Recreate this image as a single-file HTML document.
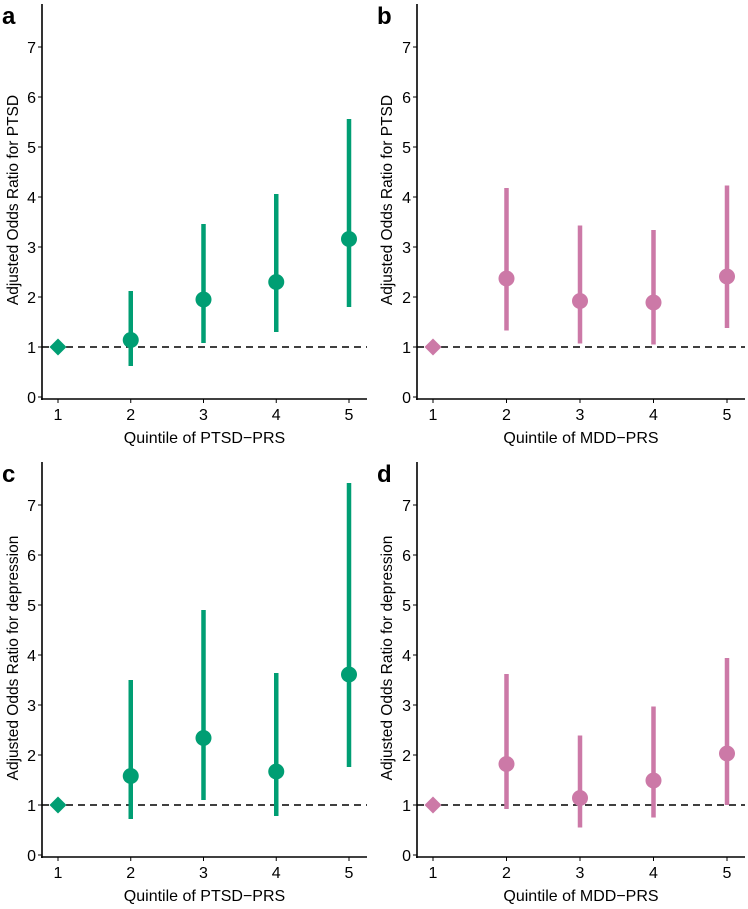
<!DOCTYPE html>
<html><head><meta charset="utf-8"><style>
body{margin:0;background:#fff}
svg text{font-family:"Liberation Sans",Arial,sans-serif}
</style></head><body>
<svg id="chart" width="748" height="904" viewBox="0 0 748 904" xmlns="http://www.w3.org/2000/svg"></svg>
<script>
const quintiles=[1,2,3,4,5];
const yTicks=[0,1,2,3,4,5,6,7];
const aEst=[1,1.14,1.95,2.30,3.16], aLo=[1,0.62,1.08,1.30,1.80], aHi=[1,2.12,3.46,4.06,5.56];
const bEst=[1,2.37,1.92,1.89,2.41], bLo=[1,1.33,1.07,1.05,1.38], bHi=[1,4.18,3.43,3.34,4.23];
const cEst=[1,1.58,2.34,1.67,3.61], cLo=[1,0.72,1.10,0.78,1.76], cHi=[1,3.50,4.90,3.64,7.44];
const dEst=[1,1.82,1.14,1.49,2.03], dLo=[1,0.92,0.55,0.75,1.00], dHi=[1,3.62,2.39,2.97,3.94];
const NS="http://www.w3.org/2000/svg", svg=document.getElementById('chart');
function mk(tag,attrs,parent){const e=document.createElementNS(NS,tag);for(const k in attrs)e.setAttribute(k,attrs[k]);(parent||svg).appendChild(e);return e;}
const panels=[
 {id:'a',ax:42,ay:0,right:367,est:aEst,lo:aLo,hi:aHi,col:'#009E73',xt:'Quintile of PTSD\u2212PRS',yt:'Adjusted Odds Ratio for PTSD'},
 {id:'b',ax:417,ay:0,right:745,est:bEst,lo:bLo,hi:bHi,col:'#CC79A7',xt:'Quintile of MDD\u2212PRS',yt:'Adjusted Odds Ratio for PTSD'},
 {id:'c',ax:42,ay:458,right:367,est:cEst,lo:cLo,hi:cHi,col:'#009E73',xt:'Quintile of PTSD\u2212PRS',yt:'Adjusted Odds Ratio for depression'},
 {id:'d',ax:417,ay:458,right:745,est:dEst,lo:dLo,hi:dHi,col:'#CC79A7',xt:'Quintile of MDD\u2212PRS',yt:'Adjusted Odds Ratio for depression'}];
panels.forEach(p=>{
 const g=mk('g',{});
 
 
 const y=v=>p.ay+397-v*50;
 const step=(p.right-p.ax-34)/4;
 const x=q=>p.ax+16+(q-1)*step;
 const lab=mk('text',{x:p.ax-40,y:p.ay+24,'font-size':24,'font-weight':'bold'},g);lab.textContent=p.id;
 
 
 mk('line',{x1:p.ax,y1:p.ay+4,x2:p.ax,y2:p.ay+400,stroke:'#000','stroke-width':1.6},g);
 mk('line',{x1:p.ax-1,y1:p.ay+399,x2:p.right,y2:p.ay+399,stroke:'#000','stroke-width':1.6},g);
 yTicks.forEach(t=>{
  mk('line',{x1:p.ax-4,y1:y(t),x2:p.ax,y2:y(t),stroke:'#000','stroke-width':1},g);
  const tx=mk('text',{x:p.ax-6,y:y(t)+6,'font-size':16,'text-anchor':'end'},g);tx.textContent=t;
  
  
 });
 quintiles.forEach(q=>{
  mk('line',{x1:x(q),y1:p.ay+399,x2:x(q),y2:p.ay+403,stroke:'#000','stroke-width':1},g);
  const tx=mk('text',{x:x(q),y:p.ay+420,'font-size':16,'text-anchor':'middle'},g);tx.textContent=q;
  
  
 });
 const xt=mk('text',{x:(p.ax+p.right)/2,y:p.ay+443,'font-size':16,'text-anchor':'middle'},g);xt.textContent=p.xt;
 
 
 const cy=p.ay+200;
 const yt=mk('text',{x:0,y:0,'font-size':15.5,'text-anchor':'middle',transform:`translate(18,${cy}) rotate(-90)`},g);yt.textContent=p.yt;
 if(p.ax>100) yt.setAttribute('transform',`translate(${p.ax-25},${cy}) rotate(-90)`);
 
 
 mk('line',{x1:p.ax,y1:y(1),x2:p.right,y2:y(1),stroke:'#000','stroke-width':1.6,'stroke-dasharray':'7,5'},g);
 quintiles.forEach((q,i)=>{
  if(i===0){
   const d=mk('rect',{x:x(q)-6,y:y(p.est[i])-6,width:12,height:12,fill:p.col,transform:`rotate(45 ${x(q)} ${y(p.est[i])})`},g);
   
   
  } else {
   const l=mk('line',{x1:x(q),y1:y(p.lo[i]),x2:x(q),y2:y(p.hi[i]),stroke:p.col,'stroke-width':4.5},g);
   
   
   const c=mk('circle',{cx:x(q),cy:y(p.est[i]),r:8,fill:p.col},g);
   
   
  }
 });
});
</script>
</body></html>
